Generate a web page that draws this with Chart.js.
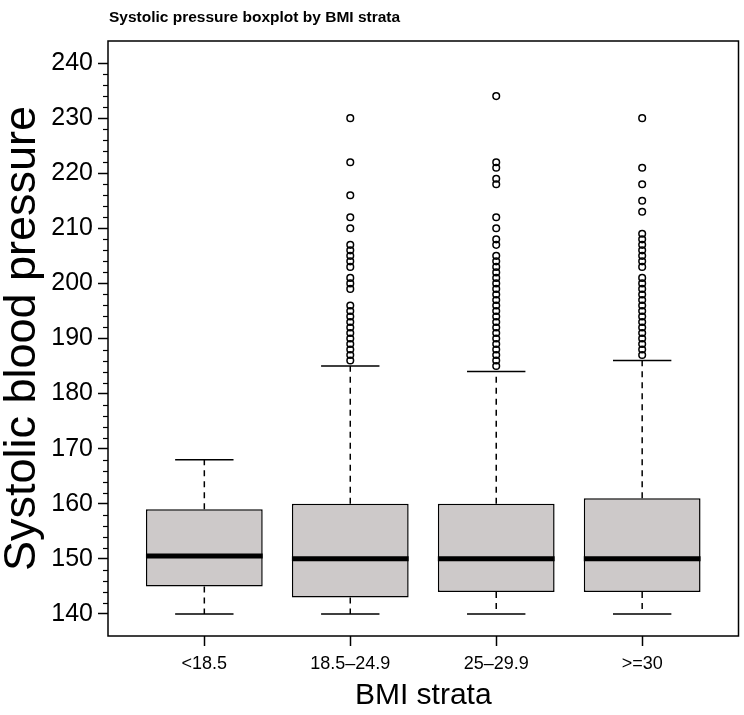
<!DOCTYPE html>
<html lang="en">
<head>
  <meta charset="UTF-8">
  <title>Systolic pressure boxplot by BMI strata</title>
  <script src="https://cdn.jsdelivr.net/npm/chart.js"></script>
  <style>
    * {
      margin: 0;
      padding: 0;
      box-sizing: border-box;
    }
    body {
      background: #ffffff;
      width: 744px;
      height: 715px;
      overflow: hidden;
    }
    .chart-wrap {
      width: 744px;
      height: 715px;
    }
  </style>
</head>
<body>
  <div class="chart-wrap">
    <canvas id="bpChart" width="744" height="715"></canvas>
  </div>

  <script>
    // BMI groups and box statistics
    const categories = ['<18.5', '18.5–24.9', '25–29.9', '>=30'];
    const whiskerLow = [140, 140, 140, 140];
    const lowerQuartile = [145, 143, 144, 144];
    const median = [150.5, 150, 150, 150];
    const upperQuartile = [159, 160, 160, 161];
    const whiskerHigh = [168, 185, 184, 186];

    // outliers per group
    const outliersUnder18 = [];
    const outliers18to24 = [230, 222, 216, 212, 210, 207, 206, 205, 204, 203, 201, 200, 199,
      196, 195, 194, 193, 192, 191, 190, 189, 188, 187, 186];
    const outliers25to29 = [234, 222, 221, 219, 218, 212, 210, 208, 207, 205, 204, 203, 202, 201,
      200, 199, 198, 197, 196, 195, 194, 193, 192, 191, 190, 189, 188, 187, 186, 185];
    const outliersOver30 = [230, 221, 218, 215, 213, 209, 208, 207, 206, 205, 204, 203, 201, 200,
      199, 198, 197, 196, 195, 194, 193, 192, 191, 190, 189, 188, 187];
    const outlierGroups = [outliersUnder18, outliers18to24, outliers25to29, outliersOver30];

    const yTicks = [140, 150, 160, 170, 180, 190, 200, 210, 220, 230, 240];

    const FONT = "'Liberation Sans', Arial, sans-serif";
    const BOX_HALF = 0.4;
    const CAP_HALF = 0.2;

    // build the datasets from the arrays above
    const boxData = categories.map((c, i) => ({ x: i + 1, y: [lowerQuartile[i], upperQuartile[i]] }));

    const medianData = [];
    const whiskerData = [];
    const capData = [];
    categories.forEach((c, i) => {
      const x = i + 1;
      medianData.push({ x: x - BOX_HALF, y: median[i] }, { x: x + BOX_HALF, y: median[i] }, { x: x, y: null });
      whiskerData.push(
        { x: x, y: upperQuartile[i] }, { x: x, y: whiskerHigh[i] }, { x: x, y: null },
        { x: x, y: lowerQuartile[i] }, { x: x, y: whiskerLow[i] }, { x: x, y: null }
      );
      capData.push(
        { x: x - CAP_HALF, y: whiskerHigh[i] }, { x: x + CAP_HALF, y: whiskerHigh[i] }, { x: x, y: null },
        { x: x - CAP_HALF, y: whiskerLow[i] }, { x: x + CAP_HALF, y: whiskerLow[i] }, { x: x, y: null }
      );
    });

    const outlierData = [];
    outlierGroups.forEach((vals, i) => {
      vals.forEach(v => outlierData.push({ x: i + 1, y: v }));
    });

    // frame, minor ticks and the left-aligned main title
    const framePlugin = {
      id: 'frame',
      afterDraw(chart) {
        const { ctx, chartArea: a, scales } = chart;
        const y = scales.y;
        ctx.save();
        ctx.strokeStyle = '#000';
        ctx.lineWidth = 1.5;
        ctx.strokeRect(a.left, a.top, a.right - a.left, a.bottom - a.top);

        ctx.lineWidth = 1.2;
        for (let v = yTicks[0]; v <= yTicks[yTicks.length - 1]; v += 2) {
          if (v % 10 === 0) continue;
          const py = Math.round(y.getPixelForValue(v)) + 0.5;
          ctx.beginPath();
          ctx.moveTo(a.left - 5, py);
          ctx.lineTo(a.left, py);
          ctx.stroke();
        }

        ctx.fillStyle = '#000';
        ctx.font = 'bold 15.5px ' + FONT;
        ctx.textAlign = 'left';
        ctx.textBaseline = 'alphabetic';
        ctx.fillText('Systolic pressure boxplot by BMI strata', a.left + 1, 22);
        ctx.restore();
      }
    };

    const ctx = document.getElementById('bpChart').getContext('2d');
    new Chart(ctx, {
      type: 'scatter',
      data: {
        datasets: [
          {
            type: 'scatter',
            data: outlierData,
            pointStyle: 'circle',
            pointRadius: 3.3,
            borderWidth: 1.5,
            borderColor: '#000',
            backgroundColor: 'rgba(0,0,0,0)',
            order: 0
          },
          {
            type: 'line',
            data: medianData,
            borderColor: '#000',
            borderWidth: 5,
            borderCapStyle: 'butt',
            pointRadius: 0,
            tension: 0,
            fill: false,
            order: 1
          },
          {
            type: 'line',
            data: capData,
            borderColor: '#000',
            borderWidth: 1.5,
            pointRadius: 0,
            tension: 0,
            fill: false,
            order: 2
          },
          {
            type: 'line',
            data: whiskerData,
            borderColor: '#000',
            borderWidth: 1.5,
            borderDash: [6, 5],
            pointRadius: 0,
            tension: 0,
            fill: false,
            order: 3
          },
          {
            type: 'bar',
            data: boxData,
            backgroundColor: '#CDC9C9',
            borderColor: '#000',
            borderWidth: 1.5,
            borderSkipped: false,
            categoryPercentage: 1,
            barPercentage: 0.8,
            order: 4
          }
        ]
      },
      options: {
        responsive: false,
        animation: false,
        devicePixelRatio: 1,
        layout: {
          padding: { top: 41, right: 2, left: 0, bottom: 0 }
        },
        plugins: {
          legend: { display: false },
          tooltip: { enabled: false },
          title: { display: false }
        },
        scales: {
          x: {
            type: 'linear',
            offset: false,
            min: 0.34,
            max: 4.66,
            afterBuildTicks: (scale) => {
              scale.ticks = categories.map((c, i) => ({ value: i + 1 }));
            },
            afterFit: (scale) => { scale.height = 79; },
            ticks: {
              autoSkip: false,
              maxRotation: 0,
              padding: 7,
              color: '#000',
              font: { family: FONT, size: 18 },
              callback: (value) => categories[value - 1]
            },
            grid: {
              offset: false,
              drawOnChartArea: false,
              drawTicks: true,
              tickLength: 10,
              tickColor: '#000',
              tickWidth: 1.5
            },
            border: { display: false },
            title: {
              display: true,
              text: 'BMI strata',
              color: '#000',
              font: { family: FONT, size: 30 },
              padding: { top: 0, bottom: 1 }
            }
          },
          y: {
            type: 'linear',
            min: 136,
            max: 244,
            afterBuildTicks: (scale) => {
              scale.ticks = yTicks.map(v => ({ value: v }));
            },
            afterFit: (scale) => { scale.width = 108; },
            ticks: {
              padding: 5,
              color: '#000',
              font: { family: FONT, size: 25 }
            },
            grid: {
              drawOnChartArea: false,
              drawTicks: true,
              tickLength: 10,
              tickColor: '#000',
              tickWidth: 1.5
            },
            border: { display: false },
            title: {
              display: true,
              text: 'Systolic blood pressure',
              color: '#000',
              font: { family: FONT, size: 45, lineHeight: 1 },
              padding: { top: 0, bottom: 0 }
            }
          }
        }
      },
      plugins: [framePlugin]
    });
  </script>
</body>
</html>
